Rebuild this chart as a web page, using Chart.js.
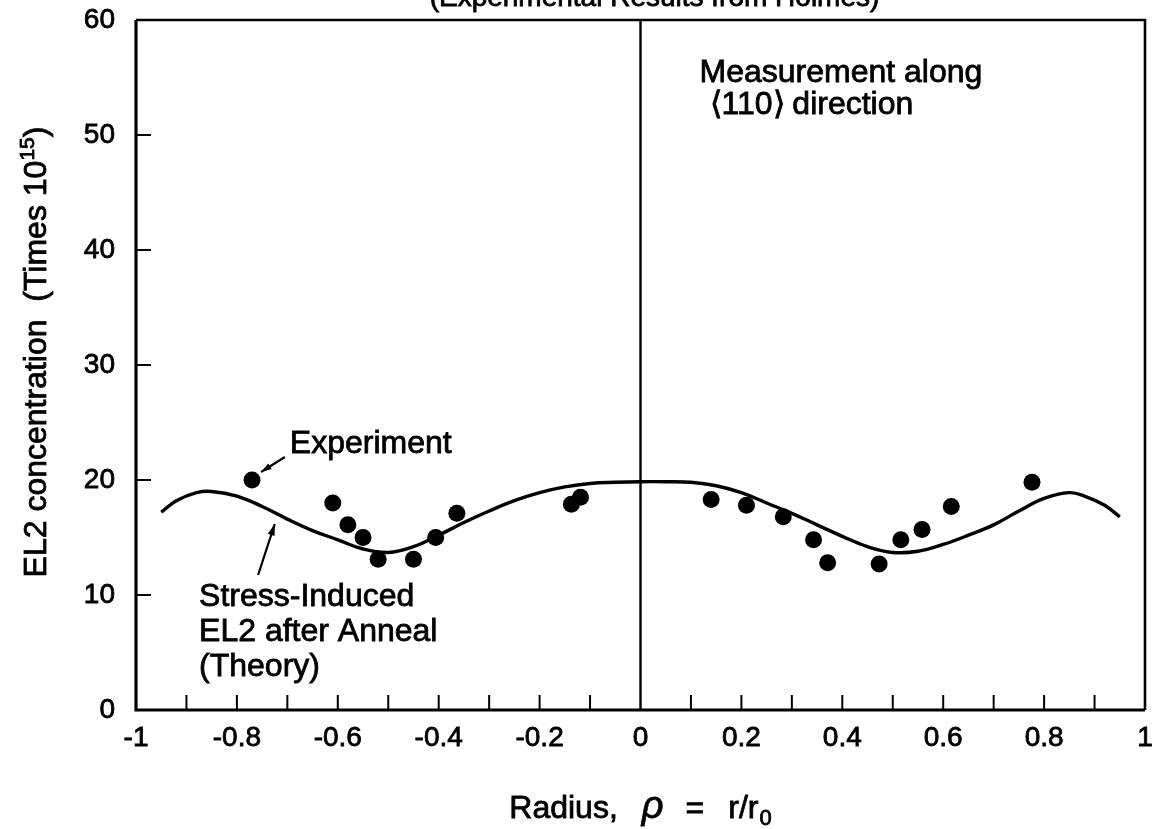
<!DOCTYPE html>
<html>
<head>
<meta charset="utf-8">
<script src="https://cdn.jsdelivr.net/npm/chart.js@4.4.1/dist/chart.umd.min.js"></script>
<style>
html,body{margin:0;padding:0;background:#fff;overflow:hidden;}
canvas{display:block;}
</style>
</head>
<body>
<canvas id="c" width="1154" height="829"></canvas>
<script>
// ---- data ----
const xTickValues = [-1, -0.8, -0.6, -0.4, -0.2, 0, 0.2, 0.4, 0.6, 0.8, 1];
const xMinorTickValues = [-0.9, -0.8, -0.7, -0.6, -0.5, -0.4, -0.3, -0.2, -0.1, 0.1, 0.2, 0.3, 0.4, 0.5, 0.6, 0.7, 0.8, 0.9];
const yTickValues = [0, 10, 20, 30, 40, 50, 60];
const yInnerTickValues = [10, 20, 30, 40, 50];

const experimentX = [-0.77, -0.61, -0.58, -0.55, -0.52, -0.45, -0.406, -0.364, -0.137, -0.119,
                     0.14, 0.21, 0.283, 0.343, 0.371, 0.473, 0.516, 0.558, 0.616, 0.776];
const experimentY = [20.0, 18.0, 16.1, 15.0, 13.1, 13.1, 15.0, 17.1, 17.9, 18.5,
                     18.3, 17.8, 16.8, 14.8, 12.8, 12.7, 14.8, 15.7, 17.7, 19.8];

const theoryX = [-0.95, -0.92, -0.88, -0.85, -0.80, -0.75, -0.70, -0.65, -0.60, -0.55, -0.50, -0.45, -0.40,
                 -0.35, -0.30, -0.25, -0.20, -0.15, -0.10, -0.05, 0.00, 0.05, 0.10, 0.15, 0.20, 0.25,
                 0.30, 0.35, 0.40, 0.45, 0.50, 0.55, 0.60, 0.65, 0.70, 0.75, 0.80, 0.85, 0.88, 0.92, 0.95];
const theoryY = [17.2, 18.2, 18.9, 19.0, 18.6, 17.7, 16.6, 15.6, 14.8, 14.0, 13.7, 14.2, 15.2,
                 16.3, 17.3, 18.2, 18.9, 19.4, 19.7, 19.8, 19.85, 19.85, 19.8, 19.5, 18.9, 18.0,
                 17.1, 16.1, 15.1, 14.2, 13.7, 13.8, 14.4, 15.2, 16.1, 17.3, 18.4, 18.9, 18.6, 17.8, 16.8];

const topTitle = "(Experimental Results from Holmes)";
const yTitleMain = "EL2 concentration  (Times 10";
const yTitleSup = "15";
const yTitleEnd = ")";
const experimentLabel = "Experiment";
const theoryLabelLines = ["Stress-Induced", "EL2 after Anneal", "(Theory)"];
const measurementLine = "Measurement along";
const directionParts = ["\u27E8110\u27E9", "direction"];

// ---- styling ----
const FONT = "'Liberation Sans', Arial, Helvetica, sans-serif";
const INK = '#000';

function fmt(v) {
  const r = Math.round(v * 10) / 10;
  return String(r);
}

function arrow(ctx, x1, y1, x2, y2, head) {
  ctx.beginPath();
  ctx.moveTo(x1, y1);
  ctx.lineTo(x2, y2);
  ctx.stroke();
  const a = Math.atan2(y2 - y1, x2 - x1);
  ctx.beginPath();
  ctx.moveTo(x2, y2);
  ctx.lineTo(x2 - head * Math.cos(a - 0.3), y2 - head * Math.sin(a - 0.3));
  ctx.lineTo(x2 - head * Math.cos(a + 0.3), y2 - head * Math.sin(a + 0.3));
  ctx.closePath();
  ctx.fill();
}

function inkText(ctx, s, x, y) {
  ctx.fillText(s, x, y);
  ctx.strokeText(s, x, y);
}

const framePlugin = {
  id: 'frame',
  afterDraw(chart) {
    const ctx = chart.ctx;
    const xs = chart.scales.x, ys = chart.scales.y;
    const a = chart.chartArea;
    ctx.save();
    ctx.strokeStyle = INK;
    ctx.fillStyle = INK;
    ctx.lineCap = 'butt';

    // frame
    ctx.lineWidth = 3.2;
    ctx.beginPath();
    ctx.moveTo(a.left, a.top);
    ctx.lineTo(a.left, a.bottom);
    ctx.lineTo(a.right, a.bottom);
    ctx.stroke();
    ctx.lineWidth = 2.6;
    ctx.beginPath();
    ctx.moveTo(a.left, a.top);
    ctx.lineTo(a.right, a.top);
    ctx.lineTo(a.right, a.bottom);
    ctx.stroke();

    // center vertical line at x = 0
    ctx.lineWidth = 2.4;
    const x0 = xs.getPixelForValue(0);
    ctx.beginPath();
    ctx.moveTo(x0, a.top);
    ctx.lineTo(x0, a.bottom);
    ctx.stroke();

    // inward ticks
    ctx.lineWidth = 2;
    xMinorTickValues.forEach(v => {
      const px = xs.getPixelForValue(v);
      ctx.beginPath();
      ctx.moveTo(px, a.bottom);
      ctx.lineTo(px, a.bottom - 15);
      ctx.stroke();
    });
    yInnerTickValues.forEach(v => {
      const py = ys.getPixelForValue(v);
      ctx.beginPath();
      ctx.moveTo(a.left, py);
      ctx.lineTo(a.left + 15, py);
      ctx.stroke();
    });

    // texts
    ctx.textBaseline = 'alphabetic';
    ctx.textAlign = 'left';
    ctx.lineWidth = 0.8;
    const P = (x, y) => [xs.getPixelForValue(x), ys.getPixelForValue(y)];

    // top (cropped) title
    ctx.font = `28px ${FONT}`;
    ctx.textAlign = 'center';
    inkText(ctx, topTitle, x0 + 14, 6);
    ctx.textAlign = 'left';

    // Experiment label + arrow
    ctx.font = `32px ${FONT}`;
    let p = P(-0.695, 22.35);
    inkText(ctx, experimentLabel, p[0], p[1]);
    ctx.lineWidth = 2.2;
    let t = P(-0.705, 22.0), h = P(-0.752, 20.7);
    arrow(ctx, t[0], t[1], h[0], h[1], 11);

    // Theory label + arrow
    ctx.lineWidth = 0.8;
    const theoryBase = [9.04, 6.0, 2.96];
    theoryLabelLines.forEach((s, i) => {
      const q = P(-0.875, theoryBase[i]);
      inkText(ctx, s, q[0], q[1]);
    });
    ctx.lineWidth = 2.2;
    t = P(-0.758, 11.74); h = P(-0.725, 16.17);
    arrow(ctx, t[0], t[1], h[0], h[1], 12);

    // Measurement label
    ctx.lineWidth = 0.8;
    p = P(0.117, 54.6);
    inkText(ctx, measurementLine, p[0], p[1]);
    p = P(0.137, 51.8);
    inkText(ctx, directionParts[0], p[0], p[1]);
    p = P(0.301, 51.8);
    inkText(ctx, directionParts[1], p[0], p[1]);

    // x axis title: Radius, rho = r/r0
    const pieces = [
      {t: 'Radius,', f: `32px ${FONT}`, gap: 24, dy: 0},
      {t: '\u03C1', f: `italic 38px ${FONT}`, gap: 22, dy: 0},
      {t: '=', f: `32px ${FONT}`, gap: 24, dy: 0},
      {t: 'r/r', f: `32px ${FONT}`, gap: 1, dy: 0},
      {t: '0', f: `22px ${FONT}`, gap: 0, dy: 7}
    ];
    let total = 0;
    pieces.forEach(pc => { ctx.font = pc.f; pc.w = ctx.measureText(pc.t).width; total += pc.w + pc.gap; });
    let cx = x0 - total / 2;
    const by = a.bottom + 108;
    pieces.forEach(pc => {
      ctx.font = pc.f;
      inkText(ctx, pc.t, cx, by + pc.dy);
      cx += pc.w + pc.gap;
    });

    // y axis title (rotated)
    ctx.save();
    ctx.translate(46, 352);
    ctx.rotate(-Math.PI / 2);
    ctx.font = `32px ${FONT}`;
    const w1 = ctx.measureText(yTitleMain).width;
    ctx.font = `21px ${FONT}`;
    const w2 = ctx.measureText(yTitleSup).width;
    ctx.font = `32px ${FONT}`;
    const w3 = ctx.measureText(yTitleEnd).width;
    let sx = -(w1 + w2 + w3) / 2;
    inkText(ctx, yTitleMain, sx, 0);
    sx += w1;
    ctx.font = `21px ${FONT}`;
    inkText(ctx, yTitleSup, sx, -12);
    sx += w2;
    ctx.font = `32px ${FONT}`;
    inkText(ctx, yTitleEnd, sx, 0);
    ctx.restore();

    ctx.restore();
  }
};

const ctx = document.getElementById('c').getContext('2d');
new Chart(ctx, {
  type: 'scatter',
  data: {
    datasets: [
      {
        label: 'Stress-Induced EL2 after Anneal (Theory)',
        data: theoryX.map((x, i) => ({x: x, y: theoryY[i]})),
        showLine: true,
        borderColor: INK,
        borderWidth: 3.4,
        pointRadius: 0,
        tension: 0.4,
        fill: false,
        order: 2
      },
      {
        label: 'Experiment',
        data: experimentX.map((x, i) => ({x: x, y: experimentY[i]})),
        pointRadius: 8.5,
        pointHoverRadius: 8.5,
        backgroundColor: INK,
        borderColor: INK,
        borderWidth: 0,
        order: 1
      }
    ]
  },
  options: {
    responsive: false,
    animation: false,
    events: [],
    layout: {padding: {top: 20, right: 9, left: 0, bottom: 0}},
    plugins: {legend: {display: false}, tooltip: {enabled: false}, title: {display: false}},
    scales: {
      x: {
        type: 'linear', min: -1, max: 1,
        afterBuildTicks: s => { s.ticks = xTickValues.map(v => ({value: v})); },
        afterFit: s => { s.height = 119; s.paddingLeft = 0; s.paddingRight = 0; },
        grid: {display: false, drawTicks: false},
        border: {display: false},
        ticks: {color: INK, font: {family: FONT, size: 28}, padding: 11, maxRotation: 0, autoSkip: false,
                textStrokeColor: INK, textStrokeWidth: 0.8, callback: v => fmt(v)}
      },
      y: {
        type: 'linear', min: 0, max: 60,
        afterBuildTicks: s => { s.ticks = yTickValues.map(v => ({value: v})); },
        afterFit: s => { s.width = 136; s.paddingTop = 0; s.paddingBottom = 0; },
        grid: {display: false, drawTicks: false},
        border: {display: false},
        ticks: {color: INK, font: {family: FONT, size: 28}, padding: 21,
                textStrokeColor: INK, textStrokeWidth: 0.8, callback: v => fmt(v)}
      }
    }
  },
  plugins: [framePlugin]
});
</script>
</body>
</html>
